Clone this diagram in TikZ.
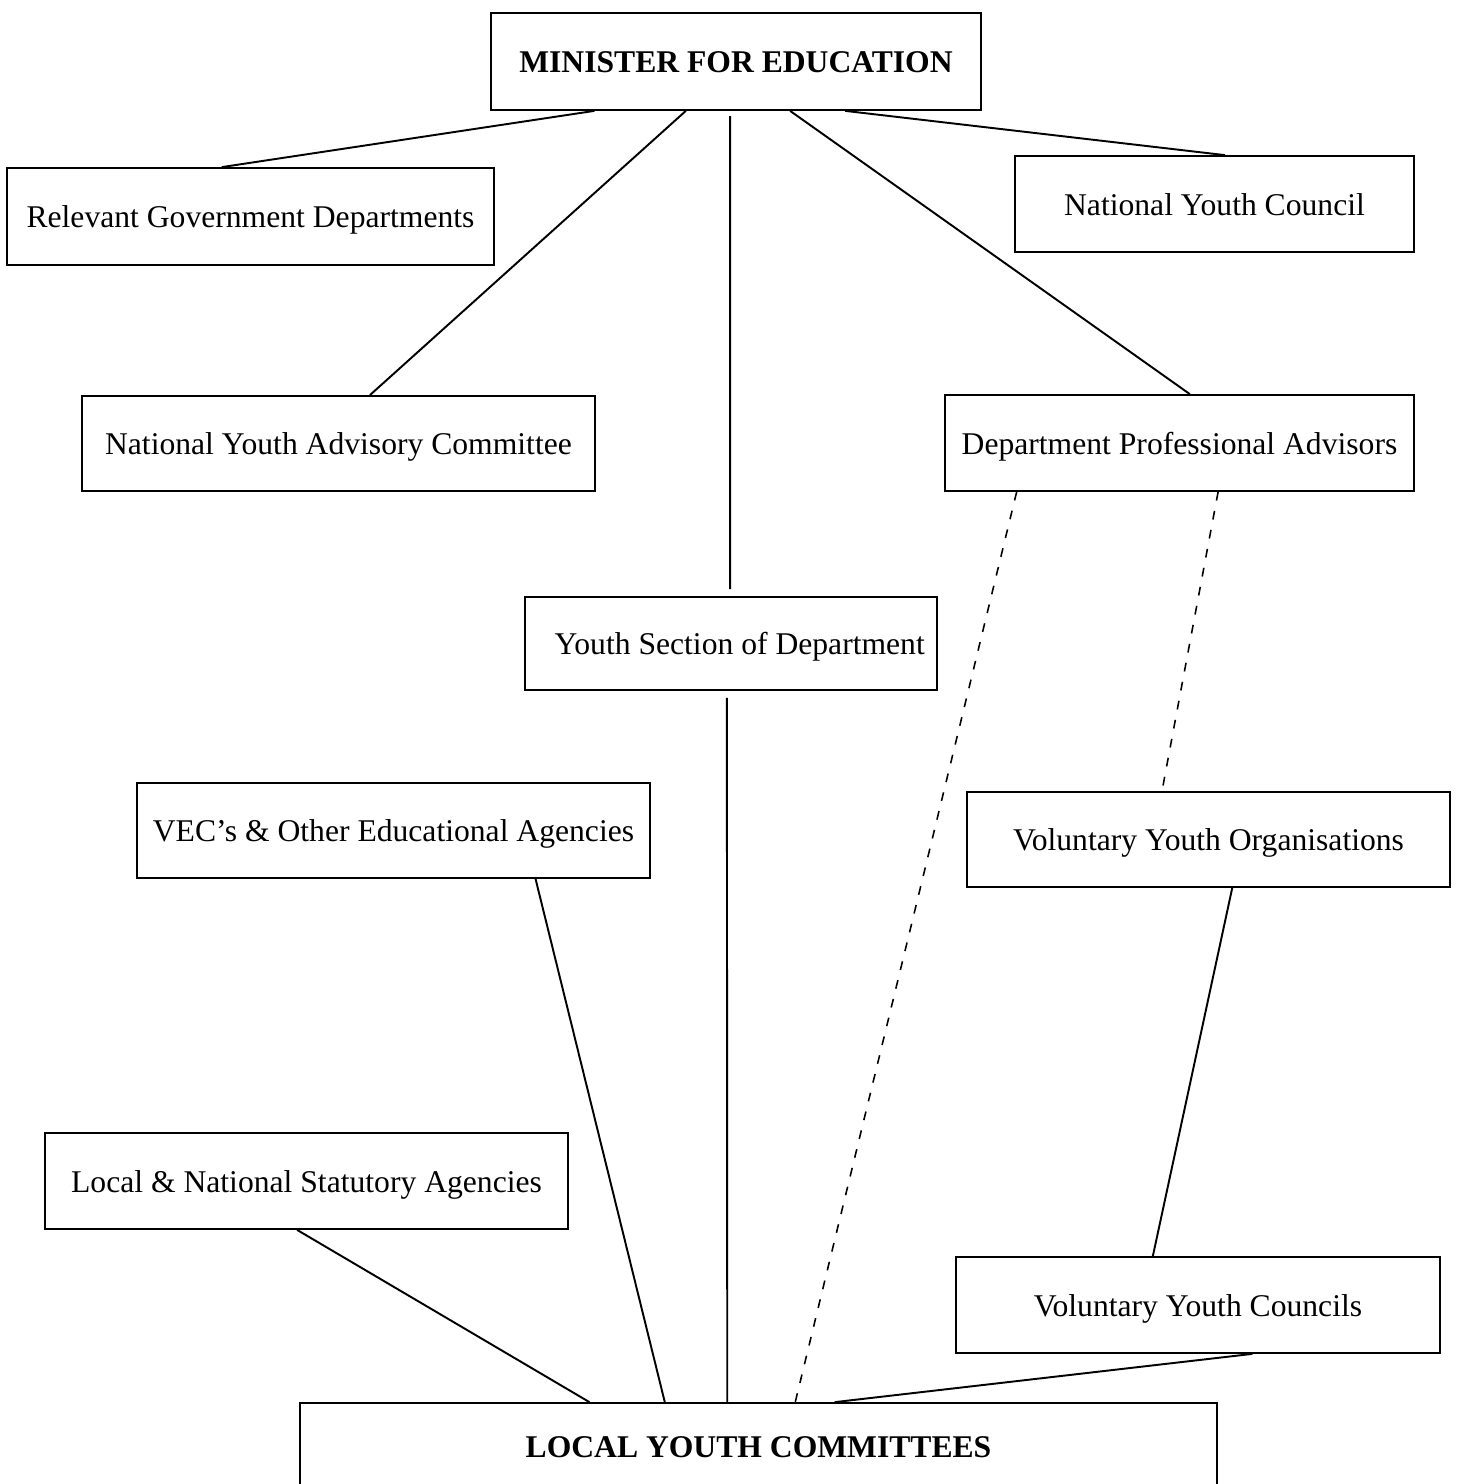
\documentclass[tikz,border=0pt]{standalone}
\usepackage{fontspec}
\setmainfont{Liberation Serif}
\usetikzlibrary{calc}
\begin{document}
\begin{tikzpicture}[x=0.02cm,y=-0.02cm,
  box/.style={draw,line width=1pt,inner sep=0pt,text height=16pt,text depth=3pt,font=\fontsize{18}{22}\selectfont},
  head/.style={box,font=\fontsize{18}{22}\selectfont\bfseries},
  link/.style={line width=1.1pt},
  dlink/.style={line width=0.9pt,dash pattern=on 5pt off 6pt}]
\useasboundingbox (0,0) rectangle (1458,1484);
\clip (0,0) rectangle (1458,1484);
\node[head,minimum width=9.8cm,minimum height=1.94cm] (min) at (736,61.5) {MINISTER FOR EDUCATION};
\node[box,minimum width=9.74cm,minimum height=1.94cm] (rgd) at (250.5,216.5) {Relevant Government Departments};
\node[box,minimum width=7.98cm,minimum height=1.92cm] (nyc) at (1214.5,204) {National Youth Council};
\node[box,minimum width=10.26cm,minimum height=1.9cm] (nyac) at (338.5,443.5) {National Youth Advisory Committee};
\node[box,minimum width=9.38cm,minimum height=1.92cm] (dpa) at (1179.5,443) {Department Professional Advisors};
\node[box,minimum width=8.24cm,minimum height=1.86cm] (ysd) at (731,643.5) {\hspace{10pt}Youth Section of Department};
\node[box,minimum width=10.26cm,minimum height=1.9cm] (vec) at (393.5,830.5) {VEC's \& Other Educational Agencies};
\node[box,minimum width=9.66cm,minimum height=1.9cm] (vyo) at (1208.5,839.5) {Voluntary Youth Organisations};
\node[box,minimum width=10.46cm,minimum height=1.92cm] (lsa) at (306.5,1181) {Local \& National Statutory Agencies\hspace{18pt}};
\node[box,minimum width=9.68cm,minimum height=1.92cm] (vyc) at (1198,1305) {Voluntary Youth Councils};
\node[head,minimum width=18.34cm,minimum height=1.72cm] (lyc) at (758.5,1446) {LOCAL YOUTH COMMITTEES};
\draw[link] ($(min.south west)!0.212!(min.south east)$) -- ($(rgd.north west)!0.441!(rgd.north east)$);
\draw[link] ($(min.south west)!0.398!(min.south east)$) -- ($(nyac.north west)!0.561!(nyac.north east)$);
\draw[link,shorten <=3pt,shorten >=4pt] ($(min.south west)!0.488!(min.south east)$) -- ($(ysd.north west)!0.498!(ysd.north east)$);
\draw[link] ($(min.south west)!0.610!(min.south east)$) -- ($(dpa.north west)!0.522!(dpa.north east)$);
\draw[link] ($(min.south west)!0.722!(min.south east)$) -- ($(nyc.north west)!0.526!(nyc.north east)$);
\draw[link,shorten <=4pt] ($(ysd.south west)!0.49!(ysd.south east)$) -- ($(lyc.north west)!0.466!(lyc.north east)$);
\draw[dlink] ($(dpa.south west)!0.154!(dpa.south east)$) -- ($(lyc.north west)!0.540!(lyc.north east)$);
\draw[dlink] ($(dpa.south west)!0.582!(dpa.south east)$) -- ($(vyo.north west)!0.404!(vyo.north east)$);
\draw[link] ($(vyo.south west)!0.549!(vyo.south east)$) -- ($(vyc.north west)!0.407!(vyc.north east)$);
\draw[link] ($(vec.south west)!0.776!(vec.south east)$) -- ($(lyc.north west)!0.398!(lyc.north east)$);
\draw[link] ($(lsa.south west)!0.482!(lsa.south east)$) -- ($(lyc.north west)!0.316!(lyc.north east)$);
\draw[link] ($(vyc.south west)!0.612!(vyc.south east)$) -- ($(lyc.north west)!0.583!(lyc.north east)$);
\end{tikzpicture}
\end{document}
